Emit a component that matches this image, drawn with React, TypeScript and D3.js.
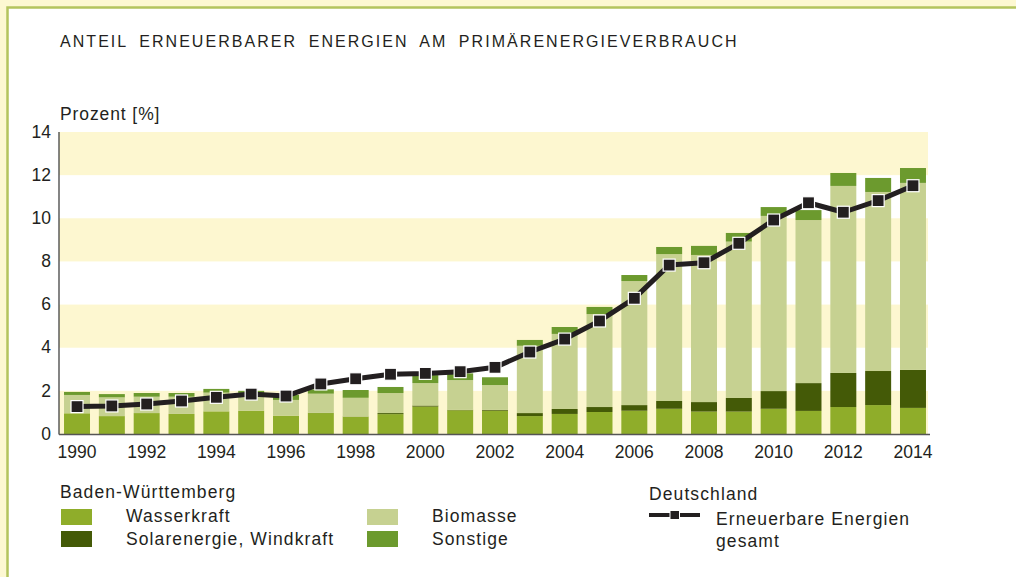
import * as d3 from "d3";

// Anteil erneuerbarer Energien am Primärenergieverbrauch (Prozent)
const years = d3.range(1990, 2015).map(String);
const wasserkraft = [0.96, 0.83, 0.97, 0.93, 1.05, 1.08, 0.85, 0.97, 0.8, 0.92, 1.27, 1.1, 1.08, 0.83, 0.93, 1.02, 1.08, 1.17, 1.04, 1.04, 1.17, 1.07, 1.25, 1.34, 1.21];
const solarWind = [0, 0, 0, 0, 0, 0, 0, 0.01, 0.01, 0.05, 0.05, 0.02, 0.04, 0.14, 0.23, 0.23, 0.26, 0.36, 0.44, 0.63, 0.82, 1.29, 1.58, 1.58, 1.76];
const biomasse = [0.85, 0.87, 0.76, 0.8, 0.87, 0.77, 0.73, 0.89, 0.87, 0.93, 1.04, 1.38, 1.15, 3.12, 3.48, 4.31, 5.75, 6.81, 6.82, 7.25, 8.12, 7.56, 8.67, 8.3, 8.67];
const sonstige = [0.14, 0.15, 0.17, 0.17, 0.17, 0.15, 0.23, 0.2, 0.36, 0.28, 0.37, 0.31, 0.36, 0.27, 0.32, 0.33, 0.28, 0.33, 0.42, 0.4, 0.41, 0.46, 0.6, 0.65, 0.69];
const deutschland = [1.27, 1.3, 1.39, 1.53, 1.7, 1.85, 1.76, 2.32, 2.56, 2.77, 2.81, 2.89, 3.09, 3.8, 4.4, 5.24, 6.29, 7.83, 7.94, 8.84, 9.92, 10.72, 10.28, 10.82, 11.51];
const yTicks = [0, 2, 4, 6, 8, 10, 12, 14];
const xTickYears = years.filter((y) => +y % 2 === 0);

const KEYS = ["wasserkraft", "solarWind", "biomasse", "sonstige"];
const COLORS: Record<string, string> = {
  wasserkraft: "#8fad2a",
  solarWind: "#445a07",
  biomasse: "#c6d191",
  sonstige: "#6c9a2e",
};

const W = 1016;
const H = 577;
const FONT = "'Liberation Sans', Arial, sans-serif";
const TEXT = "#231f20";

export default function App() {
  const rows = years.map((y, i) => ({
    year: y,
    wasserkraft: wasserkraft[i],
    solarWind: solarWind[i],
    biomasse: biomasse[i],
    sonstige: sonstige[i],
  }));
  const series = d3.stack<any>().keys(KEYS)(rows);

  const x = d3.scaleBand().domain(years).range([59.6, 930.4]).paddingInner(0.254).paddingOuter(0.127);
  const y = d3.scaleLinear().domain([0, 14]).range([434, 132]);

  const line = d3
    .line<number>()
    .x((_, i) => x(years[i])! + x.bandwidth() / 2)
    .y((d) => y(d));

  const legendText = { fontFamily: FONT, fontSize: 17.5, fill: TEXT, letterSpacing: 1.1 };

  return (
    <svg width={W} height={H} style={{ position: "absolute", left: 0, top: 0 }}>
      <rect x={0} y={0} width={W} height={H} fill="#fdf8d2" />
      <rect x={7.5} y={7.5} width={W + 20} height={H + 20} fill="#fff" stroke="#b4c45e" strokeWidth={2.5} />

      <text x={60} y={47} fontFamily={FONT} fontSize={16} fill={TEXT} letterSpacing={2.05} wordSpacing={5}>
        ANTEIL ERNEUERBARER ENERGIEN AM PRIMÄRENERGIEVERBRAUCH
      </text>
      <text x={60} y={120} fontFamily={FONT} fontSize={17.5} fill={TEXT} letterSpacing={0.9}>
        Prozent [%]
      </text>

      {/* background bands */}
      {[0, 4, 8, 12].map((v) => (
        <rect key={v} x={59} y={y(v + 2)} width={869} height={y(v) - y(v + 2)} fill="#fdf7d0" />
      ))}

      {/* stacked bars */}
      {series.map((s) => (
        <g key={s.key} fill={COLORS[s.key]}>
          {s.map((d: any, i: number) => (
            <rect
              key={i}
              x={x(d.data.year)}
              y={y(d[1])}
              width={x.bandwidth()}
              height={Math.max(0, y(d[0]) - y(d[1]))}
            />
          ))}
        </g>
      ))}

      {/* axes */}
      <line x1={59} x2={59} y1={132} y2={434.5} stroke="#333" strokeWidth={1.2} />
      <line x1={59} x2={930} y1={434.5} y2={434.5} stroke="#555" strokeWidth={1.5} />
      {yTicks.map((t) => (
        <text key={t} x={51} y={y(t)} dy="0.33em" textAnchor="end" fontFamily={FONT} fontSize={17.5} fill={TEXT}>
          {t}
        </text>
      ))}
      {xTickYears.map((t) => (
        <text key={t} x={x(t)! + x.bandwidth() / 2} y={458} textAnchor="middle" fontFamily={FONT} fontSize={17.5} fill={TEXT}>
          {t}
        </text>
      ))}

      {/* Deutschland line */}
      <path d={line(deutschland) ?? ""} fill="none" stroke={TEXT} strokeWidth={5} strokeLinejoin="round" />
      {deutschland.map((v, i) => (
        <rect
          key={i}
          x={x(years[i])! + x.bandwidth() / 2 - 6}
          y={y(v) - 6}
          width={12}
          height={12}
          fill={TEXT}
          stroke="#fff"
          strokeWidth={1.2}
        />
      ))}

      {/* legend */}
      <text x={60} y={498} {...legendText}>Baden-Württemberg</text>
      <rect x={61} y={509} width={31} height={16} fill={COLORS.wasserkraft} />
      <text x={126} y={522} {...legendText}>Wasserkraft</text>
      <rect x={61} y={531} width={31} height={16} fill={COLORS.solarWind} />
      <text x={126} y={545} {...legendText}>Solarenergie, Windkraft</text>
      <rect x={367} y={509} width={31} height={16} fill={COLORS.biomasse} />
      <text x={432} y={522} {...legendText}>Biomasse</text>
      <rect x={367} y={531} width={31} height={16} fill={COLORS.sonstige} />
      <text x={432} y={545} {...legendText}>Sonstige</text>

      <text x={649} y={500} {...legendText}>Deutschland</text>
      <line x1={649} x2={700} y1={515} y2={515} stroke={TEXT} strokeWidth={4} />
      <rect x={670} y={510.5} width={9.5} height={9} fill={TEXT} stroke="#fff" strokeWidth={1} />
      <text x={716} y={525} {...legendText}>Erneuerbare Energien</text>
      <text x={716} y={547} {...legendText}>gesamt</text>
    </svg>
  );
}
